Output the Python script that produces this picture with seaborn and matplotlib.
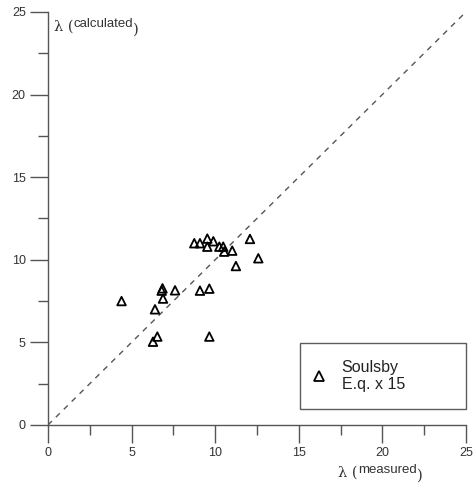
import matplotlib
matplotlib.use("Agg")
import matplotlib.pyplot as plt
import seaborn as sns
import pandas as pd
import numpy as np
from matplotlib.ticker import MultipleLocator
from matplotlib.lines import Line2D

measured = [8.75, 9.09, 9.53, 9.89, 9.53, 10.25, 10.48, 10.54, 11.02, 12.08, 12.58, 11.24,
            6.80, 6.85, 7.60, 9.09, 9.65, 6.88, 6.40, 6.54, 6.28, 9.65, 4.40]
calculated = [11.00, 11.00, 11.28, 11.12, 10.79, 10.79, 10.79, 10.49, 10.55, 11.26, 10.09, 9.62,
              8.13, 8.27, 8.15, 8.13, 8.25, 7.65, 7.00, 5.35, 5.04, 5.35, 7.50]
series_label = "Soulsby\nE.q. x 15"
ticks = [0, 5, 10, 15, 20, 25]

df = pd.DataFrame({"measured": measured, "calculated": calculated,
                   "series": [series_label] * len(measured)})

sns.set_style("white")
plt.rcParams['font.family'] = ['Liberation Sans', 'DejaVu Sans']

fig = plt.figure(figsize=(4.75, 4.9), dpi=100)
ax = fig.add_axes([0.101, 0.1327, 0.880, 0.843])

ax.plot([0, 25], [0, 25], ls=(0, (4, 4)), color="#555555", lw=1.0, zorder=1)
sns.scatterplot(data=df, x="measured", y="calculated", hue="series", palette=["black"],
                marker="^", s=38, linewidth=1.3, ax=ax, zorder=3, legend=False)
coll = ax.collections[-1]
coll.set_facecolor("none")
coll.set_edgecolor("black")

ax.set_xlim(0, 25)
ax.set_ylim(0, 25)
ax.set_xticks(ticks)
ax.set_yticks(ticks)
ax.xaxis.set_minor_locator(MultipleLocator(2.5))
ax.yaxis.set_minor_locator(MultipleLocator(2.5))
for s in ["top", "right"]:
    ax.spines[s].set_visible(False)
for s in ["left", "bottom"]:
    ax.spines[s].set_color("#555555")
    ax.spines[s].set_linewidth(1.0)
ax.tick_params(which="major", length=13, width=1.0, color="#555555", labelsize=9,
               labelcolor="#333333", bottom=True, left=True, direction="out", pad=3)
ax.tick_params(which="minor", length=7, width=1.0, color="#555555", bottom=True, left=True,
               direction="out")
ax.set_xlabel("")
ax.set_ylabel("")

# legend
h = Line2D([], [], marker="^", ls="none", markerfacecolor="none", markeredgecolor="black",
           markersize=7.5, markeredgewidth=1.3)
leg = ax.legend([h], [series_label], loc="lower left", bbox_to_anchor=(0.603, 0.039, 0.397, 0.157),
                mode="expand", frameon=True, fancybox=False, fontsize=11.5, borderpad=1.05,
                borderaxespad=0, handletextpad=1.25, handlelength=0.3, labelspacing=0.1)
leg.get_frame().set_edgecolor("#333333")
leg.get_frame().set_linewidth(1.0)
for t in leg.get_texts():
    t.set_color("#222222")

# axis labels with raised words
def raised_label(x, y, word):
    t1 = ax.text(x, y, "λ (", transform=ax.transAxes, fontsize=10.5, color="#333333",
                 family=["DejaVu Serif"], va="baseline", ha="left")
    t2 = ax.annotate(word, xy=(1, 0), xycoords=t1, xytext=(0, 5), textcoords="offset points",
                     fontsize=9.5, color="#333333", va="baseline", ha="left")
    t3 = ax.annotate(")", xy=(1, 0), xycoords=t2, xytext=(0, -3), textcoords="offset points",
                     fontsize=10.5, color="#333333", family=["DejaVu Serif"],
                     va="baseline", ha="left")

raised_label(0.015, 0.955, "calculated")
raised_label(0.695, -0.125, "measured")

fig.savefig("out.png", dpi=100)
